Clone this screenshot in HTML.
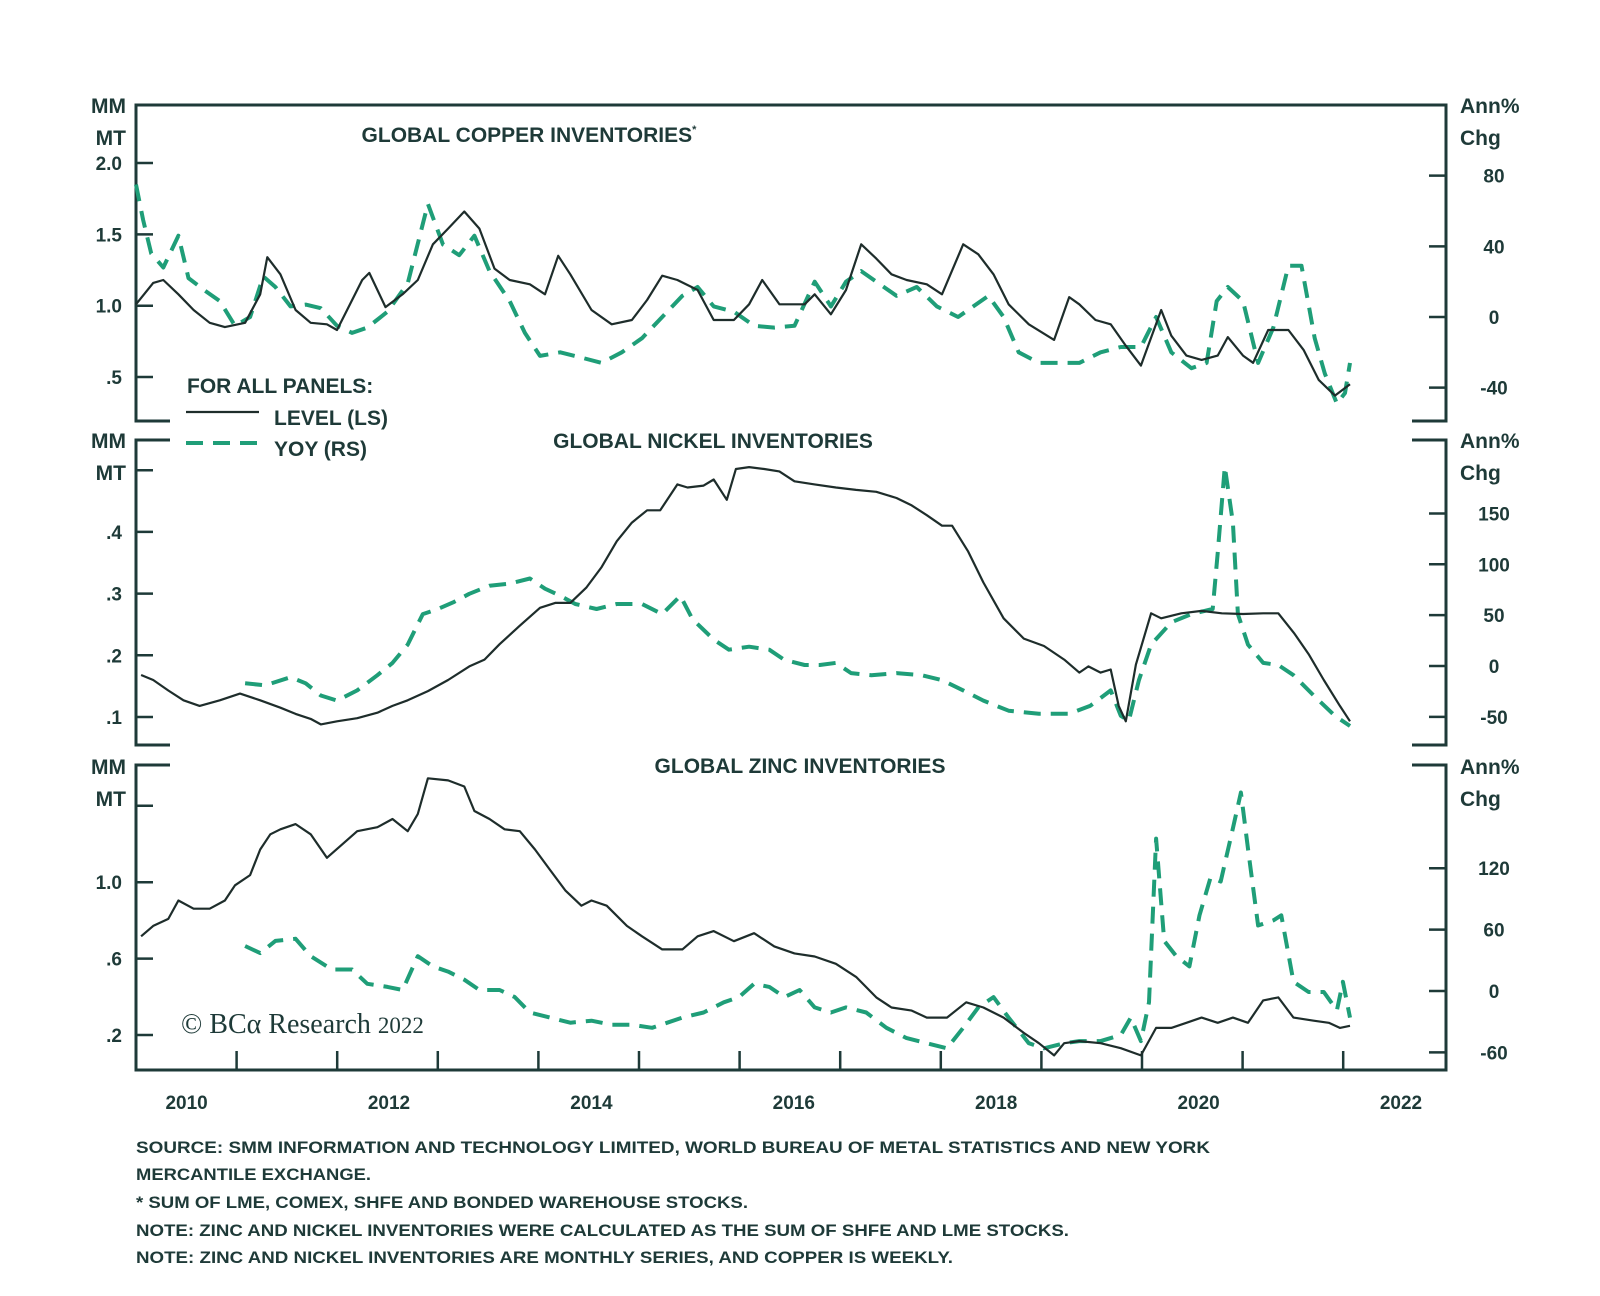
<!DOCTYPE html>
<html><head><meta charset="utf-8"><style>
body{margin:0;background:#fff}
svg{display:block}
text{font-family:"Liberation Sans",sans-serif;fill:#1e3a38}
</style></head><body>
<svg id="chart" width="1600" height="1296" viewBox="0 0 1600 1296" xmlns="http://www.w3.org/2000/svg">
<g id="frame"></g>
<g id="series"></g>
<g id="labels"></g>
<g>
<text x="187" y="393" font-size="21" font-weight="bold">FOR ALL PANELS:</text>
<line x1="186" y1="412" x2="259" y2="412" stroke="#1e2d2b" stroke-width="2.2"/>
<text x="274" y="425" font-size="21" font-weight="bold">LEVEL (LS)</text>
<line x1="186" y1="443" x2="259" y2="443" stroke="#1f9e78" stroke-width="4" stroke-dasharray="17 10"/>
<text x="274" y="456" font-size="21" font-weight="bold">YOY (RS)</text>
</g>
<text x="181" y="1033" style="font-family:'Liberation Serif',serif;font-size:28px">© BCα Research <tspan style="font-size:23px">2022</tspan></text>
<g font-size="17" font-weight="bold">
<text x="136" y="1153" textLength="1074" lengthAdjust="spacingAndGlyphs">SOURCE: SMM INFORMATION AND TECHNOLOGY LIMITED, WORLD BUREAU OF METAL STATISTICS AND NEW YORK</text>
<text x="136" y="1180" textLength="235" lengthAdjust="spacingAndGlyphs">MERCANTILE EXCHANGE.</text>
<text x="136" y="1208" textLength="612" lengthAdjust="spacingAndGlyphs">* SUM OF LME, COMEX, SHFE AND BONDED WAREHOUSE STOCKS.</text>
<text x="136" y="1236" textLength="933" lengthAdjust="spacingAndGlyphs">NOTE: ZINC AND NICKEL INVENTORIES WERE CALCULATED AS THE SUM OF SHFE AND LME STOCKS.</text>
<text x="136" y="1263" textLength="817" lengthAdjust="spacingAndGlyphs">NOTE: ZINC AND NICKEL INVENTORIES ARE MONTHLY SERIES, AND COPPER IS WEEKLY.</text>
</g>
</svg>
<script>
// time in years since 2010
const copperLevelT=[0,.17,.27,.42,.57,.73,.88,1.08,1.23,1.30,1.43,1.58,1.73,1.89,1.99,2.09,2.24,2.31,2.47,2.64,2.79,2.94,3.09,3.25,3.40,3.55,3.70,3.90,4.05,4.18,4.30,4.51,4.71,4.91,5.06,5.21,5.36,5.56,5.72,5.92,6.07,6.20,6.37,6.62,6.72,6.88,7.03,7.18,7.33,7.48,7.63,7.83,7.98,8.19,8.34,8.49,8.64,8.84,9.09,9.24,9.34,9.50,9.65,9.80,9.95,10.15,10.25,10.40,10.55,10.71,10.81,10.96,11.06,11.21,11.41,11.56,11.71,11.87,12.02];
const copperLevel=[1.01,1.16,1.18,1.08,.97,.88,.85,.88,1.08,1.34,1.22,.97,.88,.87,.83,.97,1.18,1.23,.99,1.08,1.18,1.43,1.54,1.66,1.54,1.26,1.18,1.15,1.08,1.35,1.22,.97,.87,.90,1.04,1.21,1.18,1.11,.90,.90,1.01,1.18,1.01,1.01,1.08,.94,1.11,1.43,1.33,1.22,1.18,1.15,1.08,1.43,1.36,1.22,1.01,.87,.76,1.06,1.01,.90,.87,.72,.58,.97,.79,.65,.62,.65,.78,.65,.60,.83,.83,.69,.48,.37,.45];
const copperYoyT=[0,.07,.15,.27,.42,.52,.68,.83,.98,1.13,1.26,1.38,1.53,1.68,1.83,1.99,2.14,2.29,2.49,2.69,2.89,3.04,3.20,3.35,3.50,3.70,3.85,4.00,4.20,4.41,4.61,4.81,5.01,5.21,5.41,5.56,5.72,5.92,6.12,6.32,6.52,6.72,6.88,7.03,7.18,7.33,7.53,7.73,7.93,8.14,8.29,8.44,8.59,8.74,8.94,9.14,9.34,9.55,9.75,9.95,10.10,10.25,10.45,10.60,10.70,10.81,10.96,11.11,11.26,11.41,11.54,11.67,11.77,11.89,11.97,12.02];
const copperYoy=[75,55,36,28,46,22,15,9,-5,0,23,17,6,7,5,-5,-9,-6,3,19,64,41,35,46,26,9,-9,-22,-20,-23,-26,-20,-12,0,12,17,6,3,-5,-6,-5,20,6,20,26,20,12,17,6,0,6,12,0,-20,-26,-26,-26,-20,-17,-17,0,-20,-29,-26,9,17,9,-26,-6,29,29,-12,-32,-49,-43,-26];
const nickelLevelT=[.05,.17,.32,.47,.63,.83,1.03,1.23,1.43,1.58,1.73,1.83,1.99,2.19,2.39,2.54,2.69,2.89,3.09,3.30,3.45,3.60,3.80,4.00,4.15,4.30,4.46,4.61,4.76,4.91,5.06,5.19,5.36,5.46,5.62,5.72,5.85,5.94,6.07,6.22,6.37,6.52,6.72,6.93,7.13,7.33,7.53,7.68,7.83,7.98,8.08,8.24,8.39,8.59,8.79,8.99,9.19,9.34,9.43,9.55,9.65,9.73,9.80,9.90,10.05,10.15,10.35,10.55,10.75,10.96,11.16,11.31,11.47,11.61,11.76,11.92,12.02];
const nickelLevel=[.168,.160,.143,.127,.118,.127,.138,.127,.115,.105,.097,.088,.093,.098,.107,.118,.127,.142,.160,.182,.193,.218,.248,.277,.285,.285,.310,.343,.385,.415,.435,.435,.477,.472,.475,.485,.452,.502,.505,.502,.498,.482,.477,.472,.468,.465,.455,.443,.427,.410,.410,.368,.318,.260,.227,.215,.193,.172,.182,.172,.177,.118,.093,.185,.268,.260,.268,.272,.268,.267,.268,.268,.235,.202,.160,.118,.093];
const nickelYoyT=[1.08,1.28,1.53,1.68,1.83,1.99,2.19,2.39,2.54,2.69,2.84,2.99,3.15,3.30,3.50,3.70,3.90,4.05,4.20,4.35,4.56,4.76,5.01,5.21,5.39,5.51,5.72,5.87,6.07,6.27,6.42,6.62,6.77,6.93,7.08,7.28,7.53,7.78,7.98,8.19,8.39,8.64,8.94,9.24,9.45,9.65,9.75,9.83,9.93,10.05,10.25,10.45,10.66,10.71,10.78,10.86,10.91,11.01,11.16,11.31,11.46,11.66,11.87,12.02];
const nickelYoy=[-17,-19,-11,-17,-29,-34,-24,-9,3,21,51,56,63,71,79,81,86,76,69,61,56,61,61,51,69,46,26,16,19,16,6,1,1,3,-7,-9,-7,-9,-14,-24,-34,-44,-47,-47,-39,-24,-49,-54,-14,21,43,51,56,111,196,141,51,21,3,1,-9,-29,-49,-59];
const zincLevelT=[.05,.17,.32,.42,.57,.73,.88,.98,1.13,1.23,1.33,1.43,1.58,1.73,1.89,2.04,2.19,2.39,2.54,2.69,2.79,2.89,3.09,3.25,3.35,3.50,3.65,3.80,3.95,4.10,4.25,4.41,4.51,4.66,4.86,5.01,5.21,5.41,5.56,5.72,5.92,6.12,6.32,6.52,6.72,6.93,7.13,7.33,7.48,7.68,7.83,8.03,8.22,8.39,8.59,8.79,8.94,9.09,9.19,9.34,9.55,9.75,9.95,10.10,10.25,10.40,10.55,10.71,10.86,11.01,11.16,11.31,11.46,11.66,11.81,11.92,12.02];
const zincLevel=[.717,.771,.808,.904,.861,.861,.904,.984,1.037,1.171,1.251,1.277,1.304,1.251,1.128,1.197,1.267,1.288,1.331,1.267,1.357,1.544,1.533,1.501,1.373,1.331,1.277,1.267,1.171,1.064,.957,.877,.904,.877,.771,.717,.648,.648,.717,.744,.691,.733,.664,.627,.611,.573,.504,.397,.344,.328,.291,.291,.371,.344,.291,.211,.157,.093,.157,.168,.157,.131,.093,.237,.237,.264,.291,.264,.291,.264,.381,.397,.291,.275,.264,.237,.248];
const zincYoyT=[1.08,1.23,1.38,1.58,1.73,1.94,2.14,2.29,2.49,2.64,2.79,2.94,3.09,3.25,3.40,3.60,3.75,3.90,4.10,4.30,4.51,4.71,4.91,5.11,5.26,5.41,5.62,5.82,5.97,6.12,6.27,6.42,6.57,6.72,6.88,7.03,7.23,7.43,7.63,7.83,8.03,8.19,8.34,8.49,8.64,8.84,8.99,9.19,9.34,9.55,9.75,9.85,9.95,10.03,10.10,10.18,10.30,10.43,10.53,10.64,10.74,10.86,10.94,11.01,11.11,11.26,11.34,11.46,11.61,11.76,11.89,11.95,12.02];
const zincYoy=[44,37,49,51,34,21,21,7,4,1,34,24,19,11,1,1,-6,-21,-26,-31,-29,-33,-33,-36,-31,-26,-21,-11,-6,7,4,-6,1,-16,-21,-16,-21,-36,-46,-51,-56,-36,-16,-6,-26,-51,-56,-51,-49,-49,-43,-26,-49,-11,149,49,34,24,74,111,107,159,194,139,64,69,74,9,-1,-1,-19,9,-26];
const yearLabels=["2010","2012","2014","2016","2018","2020","2022"];
const copperLTicks=[2.0,1.5,1.0,0.5],copperLTickLabels=["2.0","1.5","1.0",".5"];
const copperRTicks=[80,40,0,-40],copperRTickLabels=["80","40","0","-40"];
const nickelLTicks=[0.5,0.4,0.3,0.2,0.1],nickelLTickLabels=["",".4",".3",".2",".1"];
const nickelRTicks=[150,100,50,0,-50],nickelRTickLabels=["150","100","50","0","-50"];
const zincLTicks=[1.4,1.0,0.6,0.2],zincLTickLabels=["","1.0",".6",".2"];
const zincRTicks=[120,60,0,-60],zincRTickLabels=["120","60","0","-60"];

const NS="http://www.w3.org/2000/svg";
const L=136,R=1446,PX=101;
const xs=t=>L+t*PX;
const panels=[
 {name:'copper',top:105,bot:421,yL:v=>163+(2-v)*142.7,yR:r=>317-r*1.767,title:'GLOBAL COPPER INVENTORIES',tx:529,sup:true,
  lt:copperLTicks,ll:copperLTickLabels,rt:copperRTicks,rl:copperRTickLabels,lv:[copperLevelT,copperLevel],yy:[copperYoyT,copperYoy],mmY:105},
 {name:'nickel',top:440,bot:745,yL:v=>717-(v-0.1)*617,yR:r=>666-r*1.017,title:'GLOBAL NICKEL INVENTORIES',tx:713,
  lt:nickelLTicks,ll:nickelLTickLabels,rt:nickelRTicks,rl:nickelRTickLabels,lv:[nickelLevelT,nickelLevel],yy:[nickelYoyT,nickelYoy],mmY:440},
 {name:'zinc',top:765,bot:1070,yL:v=>1035-(v-0.2)*191,yR:r=>991-r*1.023,title:'GLOBAL ZINC INVENTORIES',tx:800,
  lt:zincLTicks,ll:zincLTickLabels,rt:zincRTicks,rl:zincRTickLabels,lv:[zincLevelT,zincLevel],yy:[zincYoyT,zincYoy],mmY:766}
];
const frame=document.getElementById('frame'),series=document.getElementById('series'),labels=document.getElementById('labels');
function mk(tag,parent,attrs){const e=document.createElementNS(NS,tag);for(const k in attrs)e.setAttribute(k,attrs[k]);parent.appendChild(e);return e;}
const C='#1e3a38';
panels.forEach((p,i)=>{
  let e;
  e=mk('line',frame,{x1:L,y1:p.top,x2:L,y2:p.bot,stroke:C,'stroke-width':3});
  
  
  e=mk('line',frame,{x1:R,y1:p.top,x2:R,y2:p.bot,stroke:C,'stroke-width':3});
  
  
  [p.top,p.bot].forEach((yy,j)=>{
    const full=(i===0&&j===0)||(i===2&&j===1);
    if(full){e=mk('line',frame,{x1:L-1.5,y1:yy,x2:R+1.5,y2:yy,stroke:C,'stroke-width':3});}
    else{
      e=mk('line',frame,{x1:L-1.5,y1:yy,x2:L+34,y2:yy,stroke:C,'stroke-width':3});
      mk('line',frame,{x1:R-34,y1:yy,x2:R+1.5,y2:yy,stroke:C,'stroke-width':3});
    }
    
    
  });
  p.lt.forEach((v,k)=>{
    const y=p.yL(v);
    e=mk('line',frame,{x1:L,y1:y,x2:L+17,y2:y,stroke:C,'stroke-width':2.5});
    
    
    if(p.ll[k]){e=mk('text',labels,{x:122,y:y+7,'text-anchor':'end','font-size':19,'font-weight':'bold'});e.textContent=p.ll[k];
    
    }
  });
  p.rt.forEach((v,k)=>{
    const y=p.yR(v);
    e=mk('line',frame,{x1:R-17,y1:y,x2:R,y2:y,stroke:C,'stroke-width':2.5});
    
    
    e=mk('text',labels,{x:1494,y:y+7,'text-anchor':'middle','font-size':19,'font-weight':'bold'});e.textContent=p.rl[k];
    
    
  });
  [['MM',0],['MT',32]].forEach(([s,d])=>{
    e=mk('text',labels,{x:126,y:p.mmY+d+8,'text-anchor':'end','font-size':21,'font-weight':'bold'});e.textContent=s;
    
    
  });
  [['Ann%',0],['Chg',32]].forEach(([s,d])=>{
    e=mk('text',labels,{x:1460,y:p.mmY+d+8,'font-size':21,'font-weight':'bold'});e.textContent=s;
    
    
  });
  e=mk('text',labels,{x:p.tx,y:(i===0?142:p.top+8),'text-anchor':'middle','font-size':21,'font-weight':'bold'});e.textContent=p.title;
  if(p.sup){const ts=mk('tspan',e,{'font-size':11,dy:-9});ts.textContent='*';}
  
  
  const pts=(T,V,f)=>T.map((t,k)=>xs(t).toFixed(1)+','+f(V[k]).toFixed(1)).join(' ');
  e=mk('polyline',series,{points:pts(p.yy[0],p.yy[1],p.yR),fill:'none',stroke:'#1f9e78','stroke-width':4,'stroke-dasharray':'17 10','stroke-linejoin':'round'});
  
  
  e=mk('polyline',series,{points:pts(p.lv[0],p.lv[1],p.yL),fill:'none',stroke:'#1e2d2b','stroke-width':2.2,'stroke-linejoin':'round'});
  
  
});
for(let k=1;k<=12;k++){
  const e=mk('line',frame,{x1:L+k*100.6,y1:1070,x2:L+k*100.6,y2:1051,stroke:C,'stroke-width':2.5});
  
  
}
yearLabels.forEach((s,k)=>{
  const e=mk('text',labels,{x:L+(2*k+0.5)*101.2,y:1109,'text-anchor':'middle','font-size':19,'font-weight':'bold'});e.textContent=s;
  
  
});
</script>
</body></html>
